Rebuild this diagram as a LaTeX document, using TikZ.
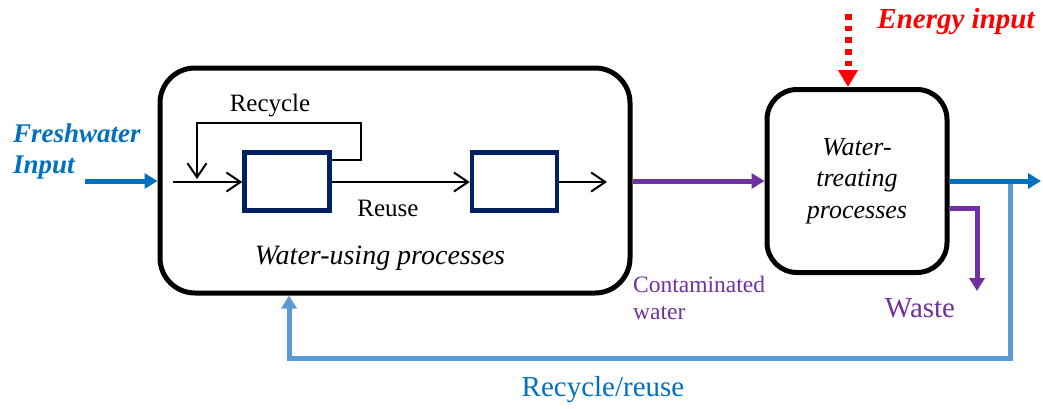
\documentclass[tikz,border=0pt]{standalone}
\usepackage{fontspec}
\setmainfont{Liberation Serif}
\usetikzlibrary{arrows.meta}
\definecolor{fwblue}{RGB}{0,112,192}
\definecolor{rrblue}{RGB}{91,155,213}
\definecolor{purp}{RGB}{112,48,160}
\definecolor{navy}{RGB}{0,32,96}
\definecolor{ered}{RGB}{255,0,0}
\begin{document}
\begin{tikzpicture}[x=1pt,y=-1pt,
  procbox/.style={draw=black,line width=5pt,fill=white,inner sep=0pt},
  unitbox/.style={draw=navy,line width=4.5pt,minimum width=85pt,minimum height=58pt,inner sep=0pt},
  txt/.style={inner sep=0pt,font=\fontsize{25}{30}\selectfont},
  inarrow/.style={draw=black,line width=2pt,-{Straight Barb[length=14pt,width=19pt,line width=2pt]}},
  fwarrow/.style={draw=fwblue,line width=5pt,-{Triangle[length=13pt,width=15pt]}},
  purparrow/.style={draw=purp,line width=5pt,-{Triangle[length=13pt,width=15pt]}},
  rrline/.style={draw=rrblue,line width=5pt,-{Triangle[length=13pt,width=15pt]}},
  energy/.style={draw=ered,line width=7pt,dash pattern=on 5.5pt off 6.2pt,-{Triangle[length=17pt,width=19pt]}}
]
\useasboundingbox (0,0) rectangle (1043,408);

% process blocks
\node[procbox,minimum width=470pt,minimum height=225pt,rounded corners=35pt] (use) at (395,180.5) {};
\node[procbox,minimum width=180pt,minimum height=183pt,rounded corners=30pt,align=center,
      font=\itshape\fontsize{26}{31.5}\selectfont] (treat) at (857,181) {Water-\\treating\\processes};
\node[unitbox] (u1) at (287,181.5) {};
\node[unitbox] (u2) at (514.5,181.5) {};

% labels
\node[txt] (lrecycle) at (270,106) {Recycle};
\node[txt] (lreuse) at (388,208) {Reuse};
\node[txt,font=\itshape\fontsize{28}{31}\selectfont] (lusing) at (380,258) {Water-using processes};
\node[txt,anchor=west,align=left,text=fwblue,font=\bfseries\itshape\fontsize{27}{31}\selectfont] (lfresh) at (13,152) {Freshwater\\Input};
\node[txt,text=ered,font=\bfseries\itshape\fontsize{29}{33}\selectfont] (lenergy) at (956,22) {Energy input};
\node[txt,anchor=west,align=left,text=purp,font=\fontsize{23.5}{27}\selectfont] (lcont) at (633,298) {Contaminated\\water};
\node[txt,text=purp,font=\fontsize{29}{33}\selectfont] (lwaste) at (920,308) {Waste};
\node[txt,text=fwblue,font=\fontsize{29}{33}\selectfont] (lrr) at (603,390) {Recycle/reuse};

% free ends
\coordinate (fwin) at (85,181);
\coordinate (inl) at (173,182);
\coordinate (rcin) at (197,179);
\coordinate (uout) at (607,182);
\coordinate (etop) at (848,14);
\coordinate (tout) at (1041,181);
\coordinate (br) at (1010,181);
\coordinate (rrc) at (289,358);
\coordinate (wout) at (977,291);

% flows inside the water-using block
\draw[inarrow] (inl) -- (u1.west |- inl);
\draw[inarrow] (u1.east |- 0,160) -- (361,160) -- (361,123) -- (rcin |- 0,123) -- (rcin);
\draw[inarrow] (u1.east |- inl) -- (u2.west |- inl);
\draw[inarrow] (u2.east |- inl) -- (uout);

% external streams
\draw[fwarrow] (fwin) -- (use.west |- fwin);
\draw[purparrow] (use.east |- 0,181) -- (treat.west |- 0,181);
\draw[energy] (etop) -- (etop |- treat.north);
\draw[rrline] (br) -- (br |- rrc) -- (rrc) -- (rrc |- use.south);
\draw[fwarrow] (treat.east |- 0,181) -- (tout);
\draw[draw=purp,line width=5pt,-{Triangle[length=13pt,width=15pt]}] (treat.east |- 0,208) -- (wout |- 0,208) -- (wout);
\end{tikzpicture}
\end{document}
